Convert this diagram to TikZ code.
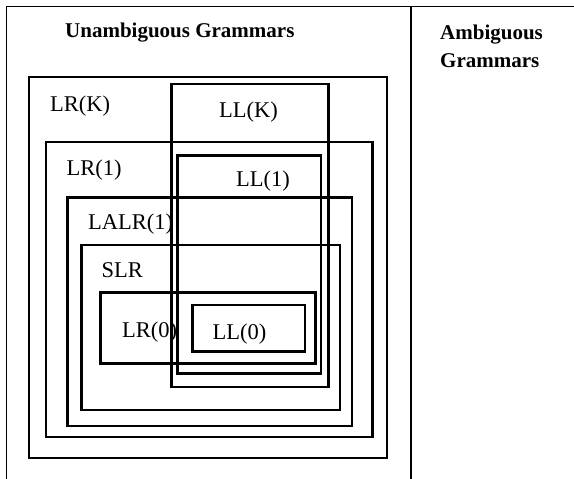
\documentclass[tikz,border=0pt]{standalone}
\usepackage{fontspec}
\setmainfont{Liberation Serif}
\begin{document}
\begin{tikzpicture}[x=1pt,y=-1pt,
  frame/.style={line width=1.4pt},
  divider/.style={line width=2pt},
  box/.style={line width=2.1pt},
  lbl/.style={anchor=base west,inner sep=0pt,font=\fontsize{22.5}{27}\selectfont},
  head/.style={anchor=base west,inner sep=0pt,font=\fontsize{21}{27}\selectfont\bfseries}]
\useasboundingbox (0,0) rectangle (574,479);
\fill[white] (0,0) rectangle (574,479);

% outer frame and the column divider
\draw[frame] (6.5,479) -- (6.5,6.5) -- (574,6.5);
\draw[divider] (411,6.5) -- (411,479);

% column headings
\node[head] (unamb) at (65,37.5) {Unambiguous Grammars};
\node[head] (amb1) at (440,39.5) {Ambiguous};
\node[head] (amb2) at (440,67.5) {Grammars};

% nested grammar classes
\draw[box] (29,77) rectangle (387,458);      % LR(K)
\draw[box] (171.5,84) rectangle (328.5,387); % LL(K)
\draw[box] (46,142) rectangle (372.5,437);   % LR(1)
\draw[box] (177.5,155.5) rectangle (321,373.5); % LL(1)
\draw[box] (67.5,197.5) rectangle (352,426); % LALR(1)
\draw[box] (81.5,245) rectangle (340,410);   % SLR
\draw[box] (100.5,292.5) rectangle (315.5,363.5); % LR(0)
\draw[box] (192.5,305) rectangle (305,351.5);     % LL(0)

% class labels
\node[lbl] (lrk) at (50,111) {LR(K)};
\node[lbl] (llk) at (219,117.5) {LL(K)};
\node[lbl] (lr1) at (66.5,175.5) {LR(1)};
\node[lbl] (ll1) at (236,186.5) {LL(1)};
\node[lbl] (lalr) at (88,229) {LALR(1)};
\node[lbl] (slr) at (101.5,277) {SLR};
\node[lbl] (lr0) at (122,337.5) {LR(0)};
\node[lbl] (ll0) at (212.5,339) {LL(0)};
\end{tikzpicture}
\end{document}
